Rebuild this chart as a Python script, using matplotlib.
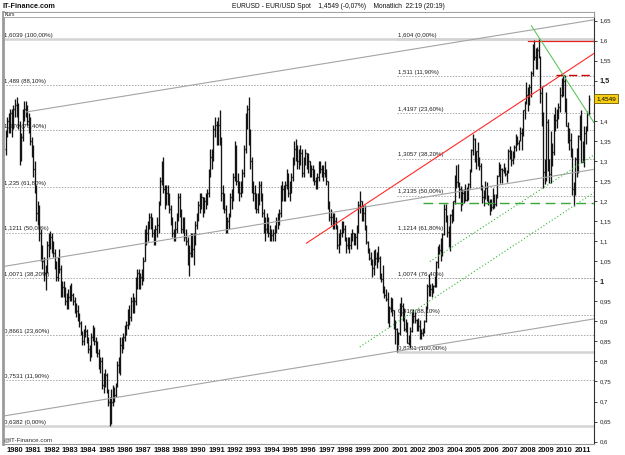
import matplotlib
matplotlib.use("Agg")
import matplotlib.pyplot as plt
import matplotlib.transforms as mtrans
from matplotlib.collections import LineCollection
from matplotlib.patches import Rectangle

plt.rcParams["font.family"] = ["Liberation Sans", "DejaVu Sans"]

# monthly EUR/USD bars, first bar = June 1979, open of first bar
start_year, start_month = 1979, 6
open0 = 1.33

highs = [
    1.378, 1.41, 1.42, 1.43, 1.43, 1.44, 1.455,
    1.46, 1.445, 1.40, 1.37, 1.43, 1.45, 1.45, 1.44, 1.42, 1.41, 1.36, 1.34,
    1.30, 1.24, 1.20, 1.19, 1.13, 1.09, 1.06, 1.04, 1.10, 1.12, 1.125, 1.12,
    1.10, 1.08, 1.05, 1.06, 1.08, 1.04, 1.00, 1.00, 0.985, 0.97, 0.98, 0.99,
    0.995, 0.97, 0.96, 0.945, 0.94, 0.92, 0.90, 0.875, 0.88, 0.89, 0.88, 0.86,
    0.84, 0.87, 0.89, 0.885, 0.86, 0.85, 0.83, 0.81, 0.81, 0.77, 0.78, 0.77,
    0.73, 0.71, 0.73, 0.74, 0.735, 0.745, 0.80, 0.81, 0.86, 0.86, 0.87, 0.89,
    0.90, 0.93, 0.94, 0.96, 0.97, 0.96, 1.01, 1.03, 1.03, 1.02, 1.03, 1.06,
    1.13, 1.14, 1.15, 1.17, 1.17, 1.16, 1.13, 1.14, 1.16, 1.20, 1.26, 1.30,
    1.31, 1.24, 1.24, 1.24, 1.22, 1.19, 1.16, 1.13, 1.15, 1.17, 1.22, 1.22,
    1.18, 1.16, 1.16, 1.13, 1.11, 1.09, 1.12, 1.12, 1.12, 1.15, 1.17, 1.20,
    1.22, 1.22, 1.21, 1.21, 1.22, 1.23, 1.28, 1.33, 1.33, 1.39, 1.41, 1.40,
    1.41, 1.427, 1.36, 1.24, 1.22, 1.19, 1.16, 1.17, 1.22, 1.23, 1.27, 1.35,
    1.34, 1.27, 1.25, 1.25, 1.28, 1.34, 1.42, 1.44, 1.46, 1.38, 1.31, 1.25,
    1.24, 1.22, 1.22, 1.25, 1.25, 1.22, 1.18, 1.16, 1.17, 1.16, 1.14, 1.13,
    1.13, 1.14, 1.16, 1.17, 1.18, 1.24, 1.25, 1.24, 1.25, 1.28, 1.27, 1.25,
    1.27, 1.31, 1.35, 1.354, 1.34, 1.33, 1.34, 1.33, 1.31, 1.33, 1.32, 1.32,
    1.30, 1.29, 1.29, 1.28, 1.26, 1.27, 1.30, 1.30, 1.29, 1.29, 1.30, 1.28,
    1.25, 1.20, 1.18, 1.17, 1.17, 1.16, 1.14, 1.12, 1.13, 1.15, 1.15, 1.14,
    1.11, 1.11, 1.11, 1.12, 1.13, 1.12, 1.12, 1.14, 1.20, 1.226, 1.20, 1.19,
    1.1906, 1.14, 1.1008, 1.084, 1.0725, 1.055, 1.077, 1.081, 1.0723, 1.088, 1.062, 1.0195,
    1.0415, 0.9875, 0.98, 0.974, 0.937, 0.961, 0.9585, 0.929, 0.9045, 0.8825, 0.8725, 0.946,
    0.9595, 0.9445, 0.933, 0.905, 0.898, 0.867, 0.885, 0.9235, 0.93, 0.9225, 0.907, 0.909,
    0.904, 0.88, 0.883, 0.9045, 0.9375, 0.9935, 1.0185, 0.9935, 0.9945, 0.9905, 1.014, 1.0495,
    1.089, 1.0935, 1.108, 1.121, 1.193, 1.193, 1.164, 1.1375, 1.1675, 1.18, 1.201, 1.265,
    1.29, 1.293, 1.248, 1.2375, 1.229, 1.2295, 1.243, 1.2345, 1.244, 1.2805, 1.33, 1.3667,
    1.3575, 1.325, 1.348, 1.309, 1.295, 1.2395, 1.227, 1.249, 1.248, 1.215, 1.2045, 1.204,
    1.2325, 1.218, 1.2175, 1.264, 1.298, 1.2935, 1.2815, 1.295, 1.284, 1.2775, 1.329, 1.3365,
    1.3275, 1.326, 1.339, 1.368, 1.3615, 1.353, 1.385, 1.3825, 1.428, 1.45, 1.4966, 1.484,
    1.493, 1.525, 1.5905, 1.602, 1.582, 1.5845, 1.6039, 1.563, 1.4865, 1.421, 1.304, 1.472,
    1.405, 1.3055, 1.374, 1.345, 1.4165, 1.434, 1.4285, 1.4445, 1.4845, 1.5065, 1.5145, 1.5145,
    1.458, 1.3965, 1.382, 1.369, 1.3325, 1.2485, 1.311, 1.3335, 1.365, 1.4155, 1.4282, 1.35,
    1.3865, 1.386, 1.425, 1.465,
]

lows = [
    1.314, 1.36, 1.37, 1.37, 1.36, 1.38, 1.41,
    1.41, 1.38, 1.29, 1.30, 1.35, 1.40, 1.41, 1.39, 1.37, 1.34, 1.31, 1.26,
    1.22, 1.15, 1.14, 1.10, 1.05, 1.03, 1.00, 0.977, 1.02, 1.06, 1.08, 1.07,
    1.06, 1.03, 1.00, 1.00, 1.02, 0.96, 0.96, 0.96, 0.94, 0.93, 0.93, 0.95,
    0.95, 0.94, 0.92, 0.91, 0.90, 0.885, 0.865, 0.84, 0.84, 0.86, 0.845, 0.82,
    0.80, 0.81, 0.85, 0.84, 0.82, 0.81, 0.78, 0.77, 0.73, 0.72, 0.735, 0.72,
    0.69, 0.6382, 0.645, 0.69, 0.70, 0.71, 0.735, 0.77, 0.765, 0.82, 0.83, 0.85,
    0.865, 0.88, 0.89, 0.90, 0.92, 0.92, 0.94, 0.98, 0.98, 0.98, 0.99, 1.00,
    1.05, 1.09, 1.10, 1.13, 1.13, 1.11, 1.09, 1.09, 1.11, 1.12, 1.19, 1.24,
    1.22, 1.18, 1.19, 1.19, 1.17, 1.14, 1.11, 1.10, 1.10, 1.12, 1.15, 1.16,
    1.12, 1.12, 1.10, 1.09, 1.04, 1.014, 1.06, 1.06, 1.04, 1.09, 1.13, 1.15,
    1.17, 1.18, 1.16, 1.17, 1.18, 1.19, 1.21, 1.26, 1.28, 1.30, 1.36, 1.34,
    1.34, 1.34, 1.20, 1.18, 1.17, 1.12, 1.12, 1.13, 1.16, 1.18, 1.20, 1.25,
    1.24, 1.22, 1.20, 1.21, 1.22, 1.26, 1.32, 1.38, 1.34, 1.28, 1.22, 1.20,
    1.18, 1.17, 1.17, 1.19, 1.20, 1.16, 1.12, 1.10, 1.12, 1.11, 1.10, 1.10,
    1.10, 1.10, 1.12, 1.13, 1.14, 1.16, 1.20, 1.20, 1.20, 1.23, 1.21, 1.20,
    1.22, 1.25, 1.29, 1.30, 1.28, 1.28, 1.29, 1.26, 1.26, 1.29, 1.28, 1.27,
    1.26, 1.26, 1.25, 1.24, 1.23, 1.23, 1.25, 1.27, 1.26, 1.25, 1.26, 1.24,
    1.18, 1.15, 1.14, 1.13, 1.13, 1.13, 1.08, 1.07, 1.09, 1.11, 1.12, 1.10,
    1.07, 1.08, 1.07, 1.08, 1.10, 1.09, 1.09, 1.08, 1.12, 1.17, 1.15, 1.15,
    1.1284, 1.0925, 1.0708, 1.0523, 1.0405, 1.0105, 1.0154, 1.0405, 1.033, 1.049, 1.0063, 0.999,
    0.97, 0.959, 0.9505, 0.897, 0.885, 0.9225, 0.9145, 0.881, 0.844, 0.8231, 0.8415, 0.8665,
    0.9145, 0.901, 0.875, 0.874, 0.845, 0.8405, 0.8344, 0.8725, 0.8965, 0.896, 0.875, 0.876,
    0.8564, 0.8565, 0.863, 0.87, 0.8975, 0.931, 0.963, 0.9625, 0.961, 0.9695, 0.9855, 0.986,
    1.0335, 1.069, 1.05, 1.062, 1.1165, 1.148, 1.11, 1.0855, 1.0765, 1.144, 1.15, 1.1925,
    1.233, 1.235, 1.208, 1.176, 1.191, 1.1955, 1.201, 1.20, 1.203, 1.232, 1.2725, 1.3155,
    1.2965, 1.2805, 1.2885, 1.278, 1.2285, 1.196, 1.1865, 1.206, 1.199, 1.191, 1.164, 1.1755,
    1.18, 1.1825, 1.1865, 1.2065, 1.2615, 1.2455, 1.2455, 1.2695, 1.2615, 1.2485, 1.2705, 1.306,
    1.2865, 1.2935, 1.3075, 1.326, 1.34, 1.3265, 1.349, 1.3265, 1.361, 1.405, 1.443, 1.425,
    1.44, 1.4585, 1.512, 1.5525, 1.5285, 1.5305, 1.5575, 1.4435, 1.388, 1.233, 1.2425, 1.251,
    1.2745, 1.2455, 1.2455, 1.2885, 1.315, 1.3745, 1.3825, 1.404, 1.4215, 1.4585, 1.463, 1.422,
    1.386, 1.3445, 1.3265, 1.311, 1.214, 1.1875, 1.215, 1.259, 1.269, 1.353, 1.297, 1.297,
    1.286, 1.343, 1.375, 1.414,
]

closes = [
    1.37, 1.40, 1.38, 1.42, 1.39, 1.43, 1.44,
    1.43, 1.39, 1.31, 1.36, 1.42, 1.43, 1.44, 1.40, 1.41, 1.35, 1.32, 1.28,
    1.23, 1.17, 1.18, 1.12, 1.07, 1.05, 1.02, 1.03, 1.09, 1.10, 1.11, 1.09,
    1.07, 1.04, 1.01, 1.05, 1.03, 0.98, 0.985, 0.97, 0.95, 0.95, 0.96, 0.98,
    0.965, 0.95, 0.935, 0.925, 0.91, 0.895, 0.87, 0.85, 0.87, 0.875, 0.85, 0.83,
    0.81, 0.86, 0.88, 0.85, 0.83, 0.82, 0.79, 0.80, 0.74, 0.745, 0.765, 0.725,
    0.70, 0.66, 0.70, 0.72, 0.715, 0.74, 0.79, 0.79, 0.84, 0.845, 0.86, 0.885,
    0.89, 0.92, 0.91, 0.95, 0.93, 0.95, 1.00, 1.02, 1.00, 1.01, 1.00, 1.05,
    1.12, 1.12, 1.14, 1.16, 1.15, 1.12, 1.10, 1.13, 1.14, 1.19, 1.25, 1.29,
    1.23, 1.20, 1.22, 1.21, 1.18, 1.15, 1.12, 1.11, 1.13, 1.16, 1.21, 1.17,
    1.13, 1.15, 1.11, 1.10, 1.05, 1.07, 1.11, 1.08, 1.11, 1.14, 1.16, 1.19,
    1.20, 1.21, 1.18, 1.20, 1.21, 1.22, 1.27, 1.31, 1.30, 1.38, 1.39, 1.36,
    1.39, 1.35, 1.22, 1.20, 1.18, 1.13, 1.15, 1.16, 1.21, 1.20, 1.26, 1.33,
    1.25, 1.23, 1.22, 1.23, 1.27, 1.33, 1.40, 1.43, 1.37, 1.30, 1.24, 1.22,
    1.20, 1.18, 1.21, 1.24, 1.21, 1.17, 1.14, 1.13, 1.15, 1.12, 1.11, 1.115,
    1.12, 1.13, 1.15, 1.16, 1.17, 1.22, 1.23, 1.22, 1.24, 1.26, 1.22, 1.23,
    1.26, 1.30, 1.33, 1.34, 1.30, 1.31, 1.32, 1.27, 1.30, 1.32, 1.31, 1.30,
    1.27, 1.28, 1.27, 1.25, 1.24, 1.26, 1.29, 1.28, 1.27, 1.27, 1.27, 1.25,
    1.19, 1.16, 1.16, 1.14, 1.15, 1.14, 1.09, 1.11, 1.12, 1.14, 1.13, 1.11,
    1.09, 1.10, 1.09, 1.11, 1.12, 1.11, 1.11, 1.13, 1.19, 1.20, 1.16, 1.17,
    1.1353, 1.0979, 1.077, 1.0579, 1.0429, 1.0337, 1.0695, 1.057, 1.0679, 1.0571, 1.0085, 1.0066,
    0.97, 0.965, 0.956, 0.9115, 0.9325, 0.952, 0.927, 0.887, 0.881, 0.8495, 0.871, 0.939,
    0.938, 0.9225, 0.8815, 0.8875, 0.846, 0.848, 0.8765, 0.912, 0.9125, 0.9045, 0.8935, 0.8895,
    0.8605, 0.8715, 0.872, 0.901, 0.9335, 0.988, 0.9785, 0.9805, 0.9865, 0.989, 0.992, 1.049,
    1.073, 1.078, 1.091, 1.1175, 1.18, 1.1495, 1.123, 1.10, 1.165, 1.16, 1.199, 1.2595,
    1.247, 1.248, 1.231, 1.1985, 1.22, 1.219, 1.203, 1.2175, 1.243, 1.278, 1.3265, 1.3555,
    1.304, 1.3255, 1.2965, 1.2865, 1.234, 1.21, 1.2125, 1.2335, 1.2025, 1.1985, 1.1795, 1.1845,
    1.215, 1.192, 1.212, 1.2625, 1.281, 1.279, 1.277, 1.2815, 1.2685, 1.276, 1.325, 1.32,
    1.302, 1.323, 1.3355, 1.365, 1.3455, 1.354, 1.369, 1.364, 1.427, 1.4485, 1.464, 1.459,
    1.4855, 1.5185, 1.579, 1.5605, 1.5545, 1.5755, 1.5615, 1.47, 1.409, 1.2735, 1.269, 1.3975,
    1.28, 1.2665, 1.3245, 1.323, 1.4155, 1.403, 1.4255, 1.434, 1.4635, 1.472, 1.50, 1.432,
    1.3865, 1.3625, 1.351, 1.329, 1.2295, 1.2235, 1.305, 1.269, 1.363, 1.3935, 1.2985, 1.337,
    1.369, 1.38, 1.4165, 1.4549,
]

last_price = 1.4549
years = list(range(1980, 2012))
price_ticks = [0.6, 0.65, 0.7, 0.75, 0.8, 0.85, 0.9, 0.95, 1.0, 1.05, 1.1,
               1.15, 1.2, 1.25, 1.3, 1.35, 1.4, 1.45, 1.5, 1.55, 1.6, 1.65]

# Fibonacci retracement 1985 low -> 2008 high (left) and 2000 low -> 2008 high (right)
fib_left_levels = [1.6039, 1.489, 1.376, 1.235, 1.1211, 1.0071, 0.8661, 0.7531, 0.6382]
fib_left_labels = ["1,6039 (100,00%)", "1,489 (88,10%)", "1,376 (76,40%)", "1,235 (61,80%)",
                   "1,1211 (50,00%)", "1,0071 (38,20%)", "0,8661 (23,60%)", "0,7531 (11,90%)",
                   "0,6382 (0,00%)"]
fib_right_levels = [1.604, 1.511, 1.4197, 1.3057, 1.2135, 1.1214, 1.0074, 0.916, 0.8231]
fib_right_labels = ["1,604 (0,00%)", "1,511 (11,90%)", "1,4197 (23,60%)", "1,3057 (38,20%)",
                    "1,2135 (50,00%)", "1,1214 (61,80%)", "1,0074 (76,40%)", "0,916 (88,10%)",
                    "0,8231 (100,00%)"]
fib_right_start = 2000.83

# drawn trend lines: (t0, v0, t1, v1)
grey_channel = [(1980.6, 1.422, 2011.6, 1.652),
                (1979.4, 1.037, 2011.6, 1.279),
                (1979.4, 0.664, 2011.6, 0.906)]
red_trend = (1995.91, 1.095, 2011.6, 1.568)
red_top = (2008.0, 1.5995)
red_dash = (2009.52, 1.514)
green_down = (2008.19, 1.637, 2011.6, 1.396)
green_dash = (2002.27, 1.194)
green_dots = [(2002.64, 1.049, 2011.6, 1.315),
              (1998.82, 0.836, 2011.6, 1.221)]

W, H = 625, 455
fig = plt.figure(figsize=(W / 100, H / 100), dpi=100)
fig.patch.set_facecolor("white")
ax = fig.add_axes([3 / W, 11 / H, 591 / W, 432 / H])
x0, x1 = 1979.345, 2011.605
y0, y1 = 0.594, 1.6715
ax.set_xlim(x0, x1)
ax.set_ylim(y0, y1)

# fib levels
for lv, lab in zip(fib_left_levels, fib_left_labels):
    if lab.endswith("(100,00%)") or lab.endswith("(0,00%)"):
        ax.plot([x0, x1], [lv, lv], color="#d4d4d4", lw=1.8, zorder=1, solid_capstyle="butt")
    else:
        ax.plot([x0, x1], [lv, lv], color="#a8a8a8", lw=0.7, ls=(0, (1.5, 1.5)), zorder=1)
    ax.annotate(lab, (x0 + 0.04, lv), xytext=(0, 1.0), textcoords="offset points",
                fontsize=4.4, color="#202020", va="bottom", ha="left", zorder=2)
for lv, lab in zip(fib_right_levels, fib_right_labels):
    if lab.endswith("(100,00%)") or lab.endswith("(0,00%)"):
        ax.plot([fib_right_start, x1], [lv, lv], color="#d4d4d4", lw=1.8, zorder=1,
                solid_capstyle="butt")
    else:
        ax.plot([fib_right_start, x1], [lv, lv], color="#a8a8a8", lw=0.7,
                ls=(0, (1.5, 1.5)), zorder=1)
    ax.annotate(lab, (fib_right_start + 0.05, lv), xytext=(0, 1.0), textcoords="offset points",
                fontsize=4.4, color="#202020", va="bottom", ha="left", zorder=2)

# OHLC bars
opens = [open0] + closes[:-1]
segs = []
tw = 0.03
for i, (o, h, l, c) in enumerate(zip(opens, highs, lows, closes)):
    t = start_year + (start_month + i) / 12.0
    segs.append([(t, l), (t, h)])
    segs.append([(t - tw, o), (t, o)])
    segs.append([(t, c), (t + tw, c)])
ax.add_collection(LineCollection(segs, colors="#141414", linewidths=0.95, zorder=4))

# trend lines
for a, b, c, d in grey_channel:
    ax.plot([a, c], [b, d], color="#a4a4a4", lw=0.8, zorder=5)
ax.plot([red_trend[0], red_trend[2]], [red_trend[1], red_trend[3]], color="#ff2a2a", lw=0.8, zorder=5)
ax.plot([red_top[0], x1], [red_top[1]] * 2, color="#e82020", lw=0.9, zorder=5)
ax.plot([red_dash[0], x1], [red_dash[1]] * 2, color="#c80000", lw=1.0, ls=(0, (6, 3)), zorder=5)
ax.plot([green_down[0], green_down[2]], [green_down[1], green_down[3]], color="#5cc85c", lw=0.8, zorder=5)
ax.plot([green_dash[0], x1], [green_dash[1]] * 2, color="#3aa83a", lw=1.0, ls=(0, (7, 4)), zorder=5)
for a, b, c, d in green_dots:
    ax.plot([a, c], [b, d], color="#30b830", lw=0.8, ls=(0, (1, 2)), zorder=5)

# axes frame
for side in ("left", "top", "bottom"):
    ax.spines[side].set_color("#9a9a9a")
ax.spines["left"].set_linewidth(2.0)
ax.spines["top"].set_linewidth(0.8)
ax.spines["bottom"].set_linewidth(0.8)
ax.spines["right"].set_color("#303030")
ax.spines["right"].set_linewidth(0.8)

ax.yaxis.tick_right()
ax.set_yticks(price_ticks)
# the 1,45 label sits under the last-price box
ax.set_yticklabels(["" if abs(v - 1.45) < 1e-9 else
                    f"{v:.2f}".rstrip("0").rstrip(".").replace(".", ",") for v in price_ticks])
ax.tick_params(axis="y", direction="out", length=2.5, width=0.6, pad=1.5,
               labelsize=4.3, colors="#202020")
for v, tl in zip(price_ticks, ax.get_yticklabels()):
    if abs(v - 1.5) < 1e-9 or abs(v - 1.0) < 1e-9:
        tl.set_fontweight("bold")
        tl.set_fontsize(5.2)

ax.set_xticks(years)
ax.set_xticklabels([str(y) for y in years])
ax.tick_params(axis="x", length=0, pad=2.2, labelsize=5.4, colors="#101010")
for tl in ax.get_xticklabels():
    tl.set_fontweight("bold")

# last price box on the right axis
trans = mtrans.blended_transform_factory(ax.transAxes, ax.transData)
ax.text(1.004, last_price, "1,4549", transform=trans, fontsize=4.6, va="center", ha="left",
        color="black", zorder=10, clip_on=False,
        bbox=dict(boxstyle="square,pad=0.3", fc="#f7cf10", ec="#6b5a00", lw=0.6))

# panel header strip
strip_h = 5.0 / 432
ax.add_patch(Rectangle((0, 1 - strip_h), 1, strip_h, transform=ax.transAxes,
                       facecolor="white", edgecolor="#9a9a9a", lw=0.6, zorder=8, clip_on=False))
ax.text(0.002, 1 - strip_h / 2, "Kurs", transform=ax.transAxes, fontsize=3.6,
        va="center", ha="left", color="#202020", zorder=9)

ax.text(0.001, 4 / 432, "@IT-Finance.com", transform=ax.transAxes, fontsize=4.5,
        va="center", ha="left", color="#303030", zorder=9)

fig.text(3 / W, 1 - 6 / H, "IT-Finance.com", fontsize=5.2, fontweight="bold",
         va="center", ha="left", color="#101010")
fig.text(338 / W, 1 - 6 / H,
         "EURUSD - EUR/USD Spot    1,4549 (-0,07%)    Monatlich  22:19 (20:19)",
         fontsize=4.8, va="center", ha="center", color="#101010")

fig.savefig("out.png", dpi=100, facecolor=fig.get_facecolor())
